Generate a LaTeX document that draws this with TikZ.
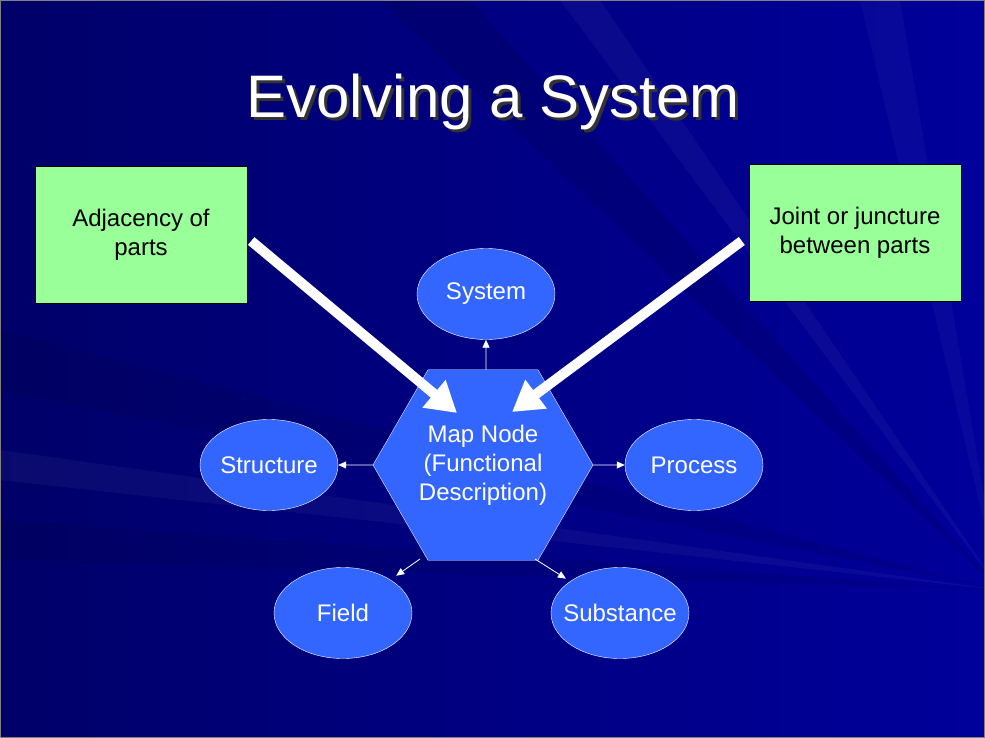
\documentclass[tikz,border=0pt]{standalone}
\usepackage{fontspec}
\setmainfont{Liberation Sans}
\usetikzlibrary{arrows.meta}
\usetikzlibrary{positioning,shapes}
\definecolor{slidedark}{RGB}{0,0,105}
\definecolor{slidelight}{RGB}{0,0,155}
\definecolor{mapblue}{RGB}{51,102,255}
\definecolor{notegreen}{RGB}{153,255,153}
\tikzset{
    part/.style={
        draw=white,
        ellipse,
        fill=mapblue,
        minimum width=138pt,
        minimum height=91pt,
        inner xsep=-20pt,
        inner ysep=0pt,
        text=white,
        font=\fontsize{24}{29}\selectfont
    },
    note/.style={
        draw=black,
        fill=notegreen,
        minimum width=212pt,
        minimum height=137pt,
        align=center,
        font=\fontsize{24}{29}\selectfont
    },
    link/.style={
        draw=white,
        line width=0.8pt,
        -{Triangle[length=8pt, width=7pt]}
    },
    bigarrow/.style={
        draw=white,
        line width=10pt,
        -{Triangle[length=30pt, width=34pt]}
    }
}

\begin{document}
\begin{tikzpicture}[x=1pt, y=-1pt]
    \useasboundingbox (0,0) rectangle (985,738);
    % background
    \shade[left color=slidedark, right color=slidelight] (0,0) rectangle (985,738);
    \fill[black, opacity=0.10] (1000,590) -- (380,0) -- (470,0) -- cycle;
    \fill[black, opacity=0.07] (1000,590) -- (0,330) -- (0,390) -- cycle;
    \fill[black, opacity=0.07] (1000,590) -- (0,520) -- (0,560) -- cycle;
    \fill[white, opacity=0.04] (1000,590) -- (560,0) -- (600,0) -- cycle;
    \fill[white, opacity=0.04] (1000,590) -- (0,450) -- (0,480) -- cycle;
    \fill[white, opacity=0.03] (1000,590) -- (860,0) -- (900,0) -- cycle;
    \draw[gray] (0.5,0.5) rectangle (984.5,737.5);

    % title
    \node[anchor=base, text=black!80, font=\fontsize{60}{70}\selectfont] (shadow) at (496,121) {Evolving a System};
    \node[anchor=base, text=white, font=\fontsize{60}{70}\selectfont] (title) at (493,118) {Evolving a System};

    % notes
    \node[note] (adj) at (141,235) {Adjacency of\\parts};
    \node[note] (joint) at (855,233) {Joint or juncture\\between parts};

    % map node
    \node[draw=white!85!mapblue, fill=mapblue, regular polygon, regular polygon sides=6,
          minimum size=220pt, inner sep=0pt, text=white, align=center,
          font=\fontsize{24}{29}\selectfont] (map) at (483,465)
          {Map Node\\(Functional\\Description)};

    % parts
    \node[part] (system) at (486,294) {System};
    \node[part] (structure) at (269,465) {Structure};
    \node[part] (process) at (694,465) {Process};
    \node[part] (field) at (343,613) {Field};
    \node[part] (substance) at (620,613) {Substance};

    \draw[link] ([xshift=3pt]map.north) -- (system.south);
    \draw[link] (map.west) -- (structure);
    \draw[link] (map.east) -- (process);
    \draw[link, shorten >=7pt] ([xshift=-63pt, yshift=-94pt]map.center) -- (field);
    \draw[link, shorten >=5pt] ([xshift=52pt, yshift=-94pt]map.center) -- (substance);

    % big arrows
    \coordinate (tipL) at (457,413);
    \coordinate (tipR) at (512,412);
    \draw[bigarrow] ([xshift=4pt, yshift=-6pt]adj.east) -- (tipL);
    \draw[bigarrow] ([xshift=-7pt, yshift=-8pt]joint.west) -- (tipR);
\end{tikzpicture}
\end{document}
